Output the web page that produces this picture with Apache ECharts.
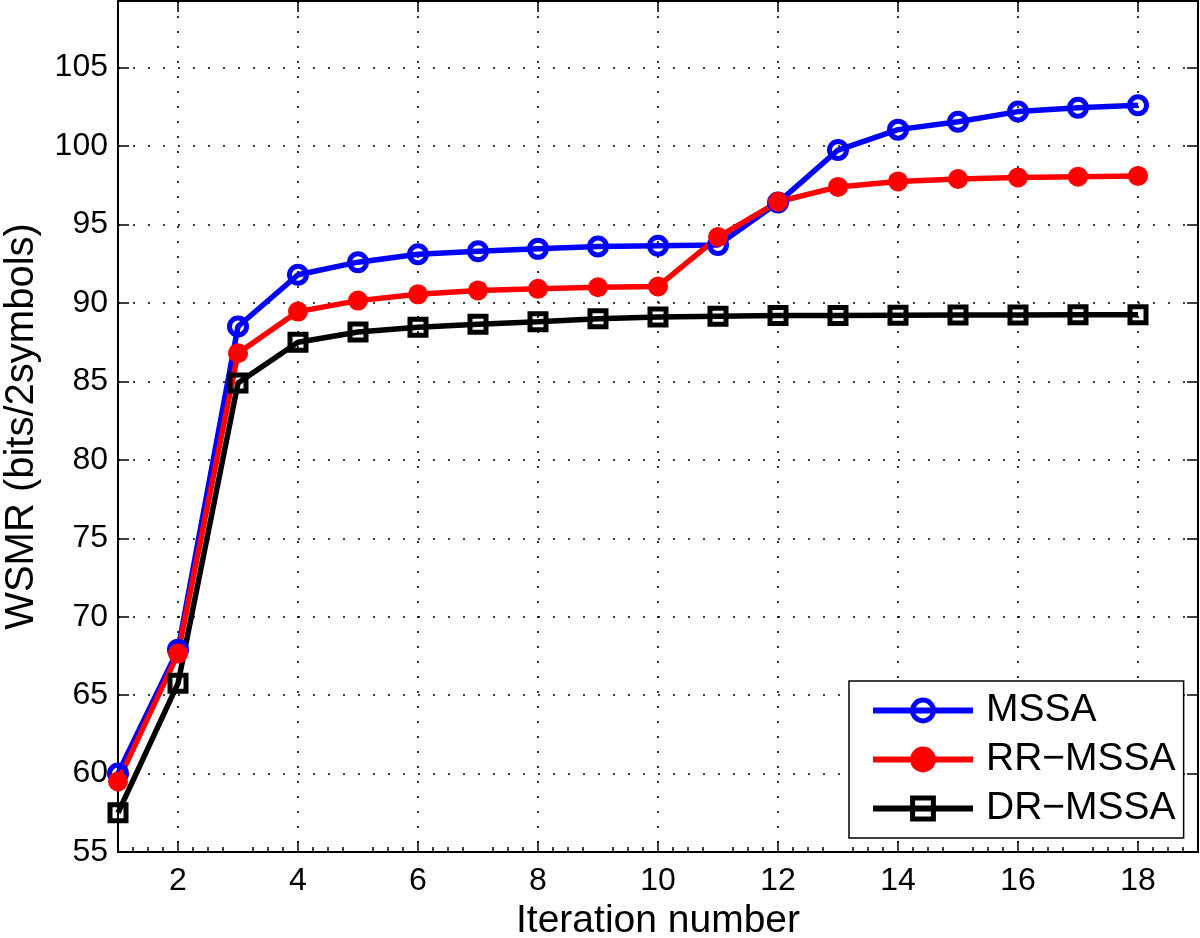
<!DOCTYPE html>
<html><head><meta charset="utf-8">
<script src="https://cdn.jsdelivr.net/npm/echarts@6/dist/echarts.min.js"></script>
<style>html,body{margin:0;padding:0;background:#fff}#c{width:1200px;height:938px}</style>
</head><body><div id="c"></div>
<script>
const iterations = [1,2,3,4,5,6,7,8,9,10,11,12,13,14,15,16,17,18];
const mssa   = [60.0, 67.9, 88.5, 91.8, 92.6, 93.1, 93.3, 93.45, 93.6, 93.65, 93.7, 96.4, 99.75, 101.05, 101.55, 102.2, 102.45, 102.6];
const rrMssa = [59.5, 67.65, 86.8, 89.45, 90.15, 90.55, 90.8, 90.9, 91.0, 91.05, 94.2, 96.45, 97.4, 97.75, 97.9, 98.0, 98.05, 98.1];
const drMssa = [57.5, 65.75, 84.9, 87.5, 88.15, 88.45, 88.65, 88.8, 89.0, 89.1, 89.15, 89.2, 89.2, 89.22, 89.23, 89.24, 89.25, 89.25];
const seriesNames = ['MSSA', 'RR\u2212MSSA', 'DR\u2212MSSA'];
const xTickValues = [2,4,6,8,10,12,14,16,18];
const xName = 'Iteration number';
const yName = 'WSMR (bits/2symbols)';

const FONT = '"Liberation Sans", Arial, Helvetica, sans-serif';
const pairs = vals => iterations.map((x, i) => [x, vals[i]]);
const dotted = {show: true, lineStyle: {color: '#000', type: [2, 13], width: 1.6}};
const axLine = {show: true, onZero: false, lineStyle: {color: '#000', width: 2}};

const chart = echarts.init(document.getElementById('c'), null, {renderer: 'canvas'});
chart.setOption({
  animation: false,
  backgroundColor: '#fff',
  grid: {left: 118, right: 2, top: 1, bottom: 86, show: true, borderColor: '#000', borderWidth: 2,
         containLabel: false, outerBoundsMode: 'none'},
  xAxis: [
    {type: 'value', position: 'bottom', min: 1, max: 19, interval: 1,
     axisLine: axLine,
     axisTick: {show: true, inside: true, length: 11, customValues: xTickValues, lineStyle: {color: '#000', width: 1.5}},
     minorTick: {show: true, splitNumber: 4, length: 5, lineStyle: {color: '#000', width: 1.5}},
     axisLabel: {customValues: xTickValues, fontSize: 32, color: '#000', margin: 13, fontFamily: FONT},
     splitLine: dotted,
     name: xName, nameLocation: 'middle', nameGap: 46,
     nameTextStyle: {fontSize: 39, color: '#000', fontFamily: FONT}},
    {type: 'value', position: 'top', min: 1, max: 19, interval: 1,
     axisLine: axLine,
     axisTick: {show: true, inside: true, length: 11, customValues: xTickValues, lineStyle: {color: '#000', width: 1.5}},
     axisLabel: {show: false}, splitLine: {show: false}}
  ],
  yAxis: [
    {type: 'value', position: 'left', min: 55, max: 109.25, interval: 5,
     axisLine: axLine,
     axisTick: {show: true, inside: true, length: 11, lineStyle: {color: '#000', width: 1.5}},
     axisLabel: {fontSize: 32, color: '#000', margin: 10, fontFamily: FONT, showMaxLabel: false},
     splitLine: dotted,
     name: yName, nameLocation: 'middle', nameRotate: 90, nameGap: 76,
     nameTextStyle: {fontSize: 40, color: '#000', fontFamily: FONT}},
    {type: 'value', position: 'right', min: 55, max: 109.25, interval: 5,
     axisLine: axLine,
     axisTick: {show: true, inside: true, length: 11, lineStyle: {color: '#000', width: 1.5}},
     axisLabel: {show: false}, splitLine: {show: false}}
  ],
  legend: {
    orient: 'vertical', left: 849, top: 681,
    padding: [10, 8, 10, 21], itemWidth: 100, itemHeight: 26, itemGap: 10,
    borderColor: '#000', borderWidth: 1.5, backgroundColor: '#fff',
    textStyle: {fontSize: 39, color: '#000', fontFamily: FONT, padding: [0, 0, 0, 8]},
    lineStyle: {width: 6},
    itemStyle: {borderWidth: 5},
    data: seriesNames
  },
  series: [
    {name: seriesNames[0], type: 'line', data: pairs(mssa), symbol: 'circle', symbolSize: 17,
     itemStyle: {color: 'rgba(0,0,0,0)', borderColor: '#0000ff', borderWidth: 5},
     lineStyle: {color: '#0000ff', width: 5.5}, emphasis: {disabled: true}},
    {name: seriesNames[1], type: 'line', data: pairs(rrMssa), symbol: 'circle', symbolSize: 20,
     itemStyle: {color: '#ff0000', borderColor: '#ff0000', borderWidth: 0},
     lineStyle: {color: '#ff0000', width: 5.5}, emphasis: {disabled: true}},
    {name: seriesNames[2], type: 'line', data: pairs(drMssa), symbol: 'rect', symbolSize: 16,
     itemStyle: {color: 'rgba(0,0,0,0)', borderColor: '#000000', borderWidth: 5},
     lineStyle: {color: '#000000', width: 5.5}, emphasis: {disabled: true}}
  ]
});
</script>
</body></html>
